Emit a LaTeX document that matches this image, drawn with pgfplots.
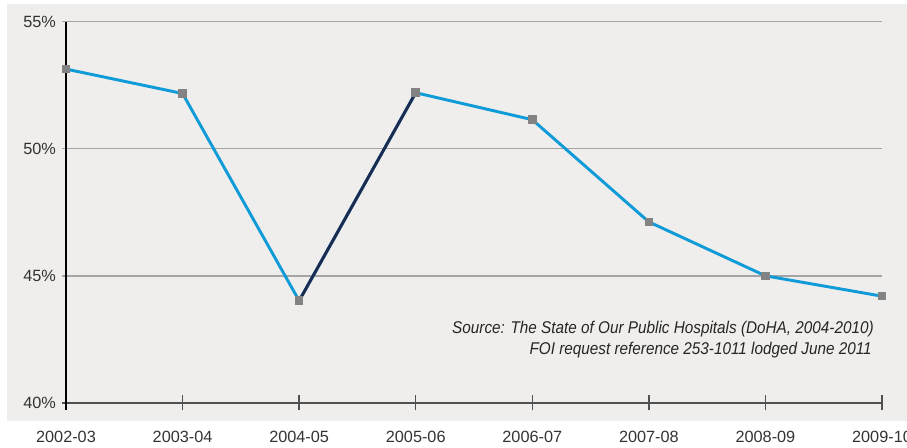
\documentclass[border=0pt]{standalone}
\usepackage{fontspec}
\setmainfont{Liberation Sans}
\usepackage{graphicx}
\usepackage{pgfplots}
\pgfplotsset{compat=1.18}
\definecolor{bg}{HTML}{EFEEEC}
\definecolor{lblue}{HTML}{0F9AD8}
\definecolor{navy}{HTML}{1C2B50}
\definecolor{mk}{HTML}{838383}
\definecolor{gridc}{HTML}{A4A4A4}
\definecolor{txt}{HTML}{333333}
\definecolor{axc}{HTML}{505050}
\begin{document}
\begin{tikzpicture}[x=0.75pt,y=0.75pt]
\fill[bg] (7,27) rectangle (907,444);
\begin{axis}[
  at={(49.5pt,33.75pt)}, anchor=south west,
  scale only axis, width=612pt, height=286.1pt,
  xmin=0, xmax=7, ymin=40, ymax=55,
  xtick={1,...,7},
  xticklabels={2003-04,2004-05,2005-06,2006-07,2007-08,2008-09,2009-10},
  extra x ticks={0}, extra x tick labels={2002-03},
  extra x tick style={tick style={draw=none}},
  ytick={40,45,50,55},
  yticklabels={40\%,45\%,50\%,55\%},
  ymajorgrids, grid style={gridc, line width=1.1pt},
  axis x line*=bottom, axis y line*=left,
  x axis line style={axc, line width=1.5pt},
  y axis line style={draw=none},
  xtick align=center, major tick length=11.25pt,
  y tick style={draw=none},
  x tick style={axc, line width=1pt},
  xticklabel style={font=\fontsize{12.2}{14}\selectfont, text=txt, yshift=-12pt},
  yticklabel style={font=\fontsize{12.2}{14}\selectfont, text=txt, xshift=-4pt},
  clip=false,
]
\draw[gridc, line width=1.1pt] (axis cs:0,45) -- ++(-3pt,0pt);
\draw[gridc, line width=1.1pt] (axis cs:0,50) -- ++(-3pt,0pt);
\draw[gridc, line width=1.1pt] (axis cs:0,55) -- ++(-3pt,0pt);
\draw[axc, line width=1.5pt] (axis cs:0,40) -- ++(-3pt,0pt);
\draw[black, line width=1.1pt] (axis cs:0,55) -- ([yshift=-5pt]axis cs:0,40);
\addplot[lblue, line width=2.2pt] coordinates {(0,53.13) (1,52.17) (2,44.02) (3,52.2) (4,51.14) (5,47.12) (6,45.0) (7,44.2)};
\addplot[navy, line width=2.2pt] coordinates {(2,44.02) (3,52.2)};
\addplot[only marks, mark=square*, mark size=2.85pt, mark options={fill=mk, draw=mk, line width=0pt}] coordinates {(0,53.13) (1,52.17) (2,44.02) (3,52.2) (4,51.14) (5,47.12) (6,45.0) (7,44.2)};
\end{axis}
\node[anchor=base east, inner sep=0, text=black!85] at (874,114) {\scalebox{0.9}[1]{\fontsize{12.75}{15}\selectfont\itshape Source: The State of Our Public Hospitals (DoHA, 2004-2010)}};
\node[anchor=base east, inner sep=0, text=black!85] at (872,93) {\scalebox{0.9}[1]{\fontsize{12.75}{15}\selectfont\itshape FOI request reference 253-1011 lodged June 2011}};
\pgfresetboundingbox
\path[use as bounding box] (0,0) rectangle (907,448);
\end{tikzpicture}
\end{document}
